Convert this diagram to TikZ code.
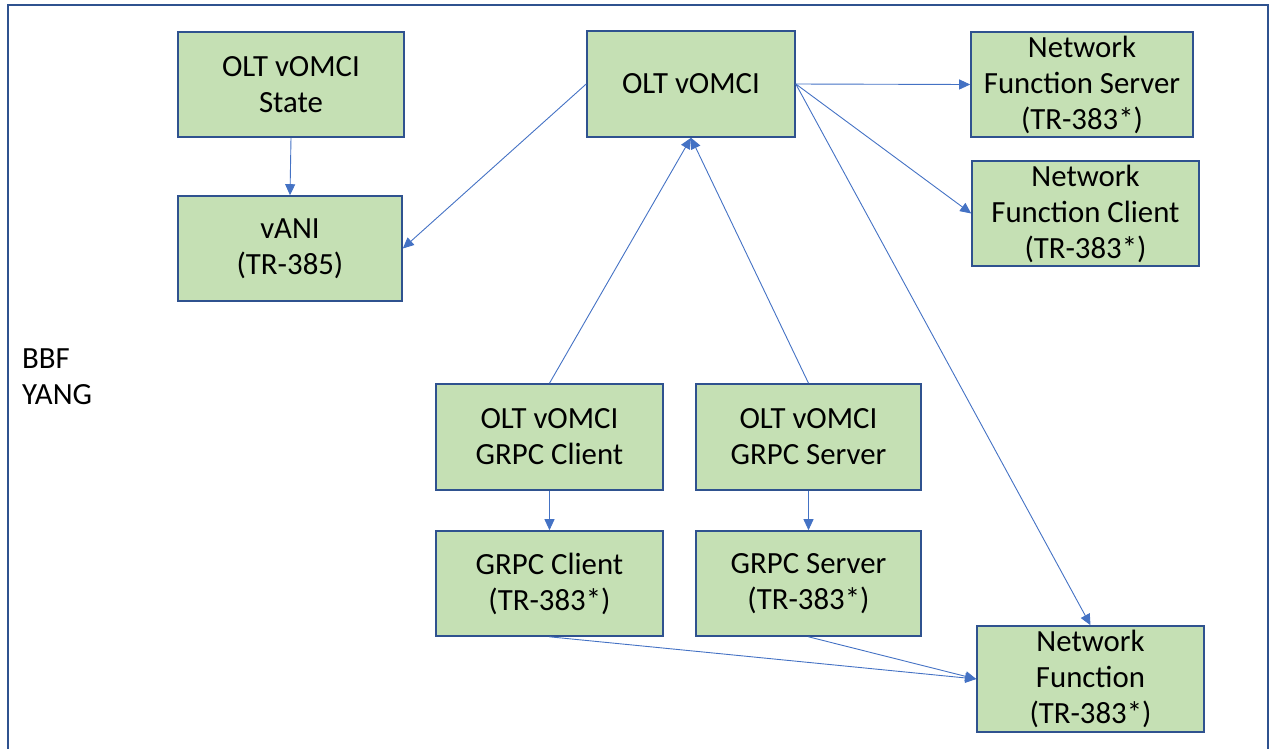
\documentclass[tikz,border=0pt]{standalone}
\usepackage{fontspec}
\setmainfont{Carlito}
\usetikzlibrary{arrows.meta}
\definecolor{boxfill}{HTML}{C5E0B4}
\definecolor{boxline}{HTML}{2F528F}
\definecolor{arrowc}{HTML}{4472C4}
\begin{document}
\begin{tikzpicture}[x=1pt,y=-1pt,
  box/.style={draw=boxline, line width=1.6pt, fill=boxfill, inner sep=0pt,
    align=center, font=\fontsize{30.8}{36}\selectfont},
  conn/.style={draw=arrowc, line width=0.9pt, -{Triangle[length=11pt,width=10pt]}},
  lbl/.style={inner sep=0pt, align=left, anchor=north west, font=\fontsize{30.8}{36}\selectfont}]
\useasboundingbox (0,0) rectangle (1270,748);
\draw[boxline, line width=1.8pt] (8,760) -- (8,5) -- (1268,5) -- (1268,760);
\node[box, minimum width=226, minimum height=105] (state) at (291,84.5) {OLT vOMCI\\State};
\node[box, minimum width=224, minimum height=105] (vani) at (290,248.5) {vANI\\(TR-385)};
\node[box, minimum width=208, minimum height=106] (olt) at (691,84) {OLT vOMCI};
\node[box, minimum width=222, minimum height=105] (nfs) at (1082,84.5) {Network\\Function Server\\(TR-383*)};
\node[box, minimum width=227, minimum height=105] (nfc) at (1085.5,213.5) {Network\\Function Client\\(TR-383*)};
\node[box, minimum width=227, minimum height=106] (ogc) at (549.5,437) {OLT vOMCI\\GRPC Client};
\node[box, minimum width=225, minimum height=106] (ogs) at (808.5,437) {OLT vOMCI\\GRPC Server};
\node[box, minimum width=227, minimum height=105] (gc) at (549.5,583.5) {GRPC Client\\(TR-383*)};
\node[box, minimum width=225, minimum height=105] (gs) at (808.5,583.5) {GRPC Server\\(TR-383*)};
\node[box, minimum width=227, minimum height=106] (nf) at (1090.5,679) {Network\\Function\\(TR-383*)};
\node[lbl] (bbf) at (22,349) {BBF\\YANG};
\draw[conn] (state.south) -- (vani.north);
\draw[conn] (olt.west) -- (vani.east);
\draw[conn] (olt.east) -- (nfs.west);
\draw[conn] (olt.east) -- (nfc.west);
\draw[conn] (olt.east) -- (nf.north);
\draw[conn] (ogc.north) -- (olt.south);
\draw[conn] (ogs.north) -- (olt.south);
\draw[conn] (ogc.south) -- (gc.north);
\draw[conn] (ogs.south) -- (gs.north);
\draw[conn] (gc.south) -- (nf.west);
\draw[conn] (gs.south) -- (nf.west);
\end{tikzpicture}
\end{document}
